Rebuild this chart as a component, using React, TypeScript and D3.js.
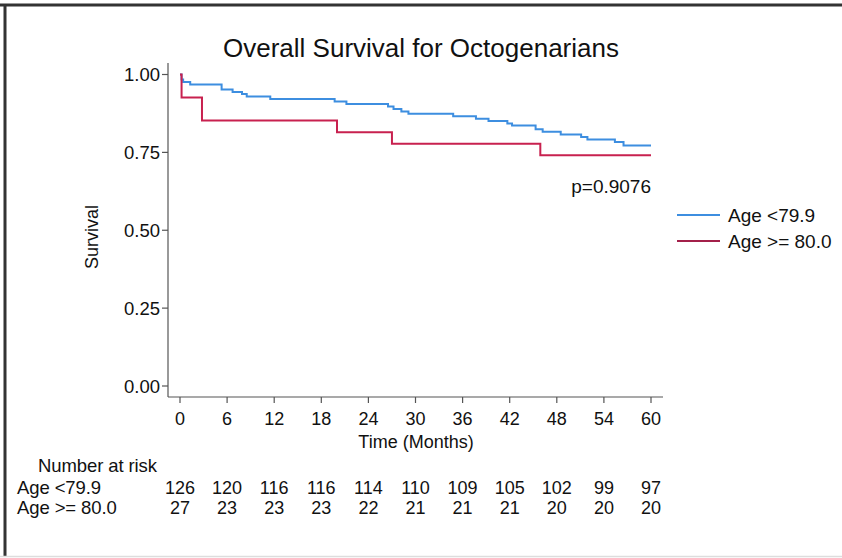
import React from "react";
import * as d3 from "d3";

const title = "Overall Survival for Octogenarians";
const seriesNames = ["Age <79.9", "Age >= 80.0"];
const seriesColors = ["#3d8ee0", "#c8214f"];
const legendColors = ["#3d8ee0", "#a3204a"];
const xTicks = [0, 6, 12, 18, 24, 30, 36, 42, 48, 54, 60];
const yTicks = [0, 0.25, 0.5, 0.75, 1.0];

// Kaplan-Meier steps: [month, survival]
const youngTimes = [0, 0.2, 0.4, 1.3, 5.3, 6.7, 7.9, 8.5, 11.5, 19.7, 21.2, 26.5, 27.2, 28.2, 29.1, 34.8, 37.7, 39.3, 41.7, 42.3, 45.3, 46.2, 48.5, 51.1, 51.9, 55.4, 56.5, 60];
const youngSurv = [1.0, 0.984, 0.976, 0.968, 0.952, 0.944, 0.937, 0.929, 0.921, 0.913, 0.905, 0.897, 0.889, 0.881, 0.874, 0.866, 0.858, 0.851, 0.843, 0.836, 0.824, 0.816, 0.807, 0.799, 0.791, 0.783, 0.772, 0.772];
const oldTimes = [0, 0.2, 2.8, 20.0, 27.0, 45.9, 60];
const oldSurv = [1.0, 0.926, 0.852, 0.815, 0.778, 0.741, 0.741];

const riskYoung = [126, 120, 116, 116, 114, 110, 109, 105, 102, 99, 97];
const riskOld = [27, 23, 23, 23, 22, 21, 21, 21, 20, 20, 20];
const pText = "p=0.9076";

export default function App() {
  const W = 842, H = 558;
  const x = d3.scaleLinear().domain([0, 60]).range([180, 651]);
  const y = d3.scaleLinear().domain([0, 1]).range([386, 74.5]);
  const plotL = 168, plotR = 663, plotT = 63, plotB = 397;
  const font = "'Liberation Sans', Arial, Helvetica, sans-serif";
  const axisColor = "#555";

  const line = d3
    .line<[number, number]>()
    .x((d) => x(d[0]))
    .y((d) => y(d[1]))
    .curve(d3.curveStepAfter);

  const youngData = youngTimes.map((t, i) => [t, youngSurv[i]] as [number, number]);
  const oldData = oldTimes.map((t, i) => [t, oldSurv[i]] as [number, number]);

  const riskRows = [riskYoung, riskOld];

  return (
    <svg
      width={W}
      height={H}
      style={{ position: "absolute", left: 0, top: 0, background: "#fff" }}
      fontFamily={font}
    >
      <rect x={0} y={0} width={W} height={H} fill="#fff" />
      {/* frame */}
      <line x1={0} x2={W} y1={5} y2={5} stroke="#333" strokeWidth={3} />
      <line x1={5} x2={5} y1={4} y2={556} stroke="#333" strokeWidth={3} />
      <line x1={0} x2={W} y1={556.5} y2={556.5} stroke="#ddd" strokeWidth={1.5} />

      <text x={421} y={57} textAnchor="middle" fontSize={26} fill="#111">
        {title}
      </text>

      {/* y axis */}
      <line x1={plotL} x2={plotL} y1={plotT} y2={plotB} stroke={axisColor} strokeWidth={1.2} />
      {yTicks.map((t) => (
        <g key={t}>
          <line x1={plotL - 6} x2={plotL} y1={y(t)} y2={y(t)} stroke={axisColor} strokeWidth={1.2} />
          <text x={plotL - 8} y={y(t) + 6.5} textAnchor="end" fontSize={18.5} fill="#111">
            {t.toFixed(2)}
          </text>
        </g>
      ))}
      <text
        transform={`translate(98,237) rotate(-90)`}
        textAnchor="middle"
        fontSize={18}
        fill="#111"
      >
        Survival
      </text>

      {/* x axis */}
      <line x1={plotL} x2={plotR} y1={plotB} y2={plotB} stroke={axisColor} strokeWidth={1.2} />
      {xTicks.map((t) => (
        <g key={t}>
          <line x1={x(t)} x2={x(t)} y1={plotB} y2={plotB + 6} stroke={axisColor} strokeWidth={1.2} />
          <text x={x(t)} y={425} textAnchor="middle" fontSize={18} fill="#111">
            {t}
          </text>
        </g>
      ))}
      <text x={416} y={448} textAnchor="middle" fontSize={18} fill="#111">
        Time (Months)
      </text>

      {/* curves */}
      <path d={line(youngData) || ""} fill="none" stroke={seriesColors[0]} strokeWidth={2} />
      <path d={line(oldData) || ""} fill="none" stroke={seriesColors[1]} strokeWidth={2} />

      <text x={651} y={193} textAnchor="end" fontSize={19} fill="#111">
        {pText}
      </text>

      {/* legend */}
      {seriesNames.map((name, i) => (
        <g key={name}>
          <line x1={677} x2={720} y1={215 + i * 26} y2={215 + i * 26} stroke={legendColors[i]} strokeWidth={2} />
          <text x={728} y={222 + i * 26} fontSize={19} fill="#111">
            {name}
          </text>
        </g>
      ))}

      {/* risk table */}
      <text x={38} y={472} fontSize={18.5} fill="#111" letterSpacing={-0.1}>
        Number at risk
      </text>
      {riskRows.map((row, r) => (
        <g key={r}>
          <text x={17} y={494 + r * 20} fontSize={18.5} fill="#111" letterSpacing={-0.1}>
            {seriesNames[r]}
          </text>
          {row.map((v, i) => (
            <text key={i} x={x(xTicks[i])} y={494 + r * 20} textAnchor="middle" fontSize={18} fill="#111">
              {v}
            </text>
          ))}
        </g>
      ))}
    </svg>
  );
}
